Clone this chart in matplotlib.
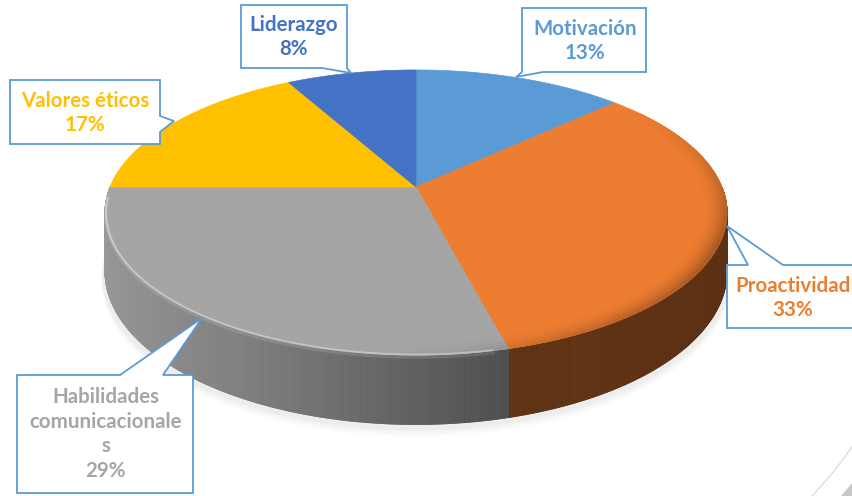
import numpy as np
import matplotlib
matplotlib.use("Agg")
import matplotlib.pyplot as plt
from matplotlib.patches import Polygon
from matplotlib.collections import PolyCollection
import matplotlib.colors as mcolors

# ---------------- data ----------------
categories = ["Motivación", "Proactividad", "Habilidades comunicacionales", "Valores éticos", "Liderazgo"]
values = [13, 33, 29, 17, 8]
display_names = ["Motivación", "Proactividad", "Habilidades\ncomunicacionale\ns", "Valores éticos", "Liderazgo"]
slice_colors = ["#5B9BD5", "#ED7D31", "#A5A5A5", "#FFC000", "#4472C4"]
side_scale = [1.0, 0.86, 1.0, 1.0, 1.0]   # extra darkening of each slice's wall

# ---------------- layout / style ----------------
W, H = 853, 496
fig = plt.figure(figsize=(W / 100, H / 100), dpi=100)
ax = fig.add_axes([0, 0, 1, 1])
ax.set_xlim(0, W)
ax.set_ylim(H, 0)
ax.axis("off")

cx, cy = 416.0, 187.0   # projected pie centre (pixels)
A, B = 306.0, 138.0     # horizontal / vertical radii
k = 0.179               # perspective strength
D = 57.0                # thickness


def proj(X, Y, z=0.0):
    w = 1.0 + k * Y
    return cx + A * X / w, cy - B * Y / w + z * D / w


total = float(sum(values))
cum = np.concatenate([[0], np.cumsum(values)]) / total * 360.0
starts = 90.0 - cum[:-1]
ends = 90.0 - cum[1:]


def slice_of(theta):
    frac = ((90.0 - theta) % 360.0)
    return int(np.searchsorted(cum, frac, side="right") - 1) % len(values)


def rgb(c):
    return np.array(mcolors.to_rgb(c))


# ---------- soft shadow ----------
tt = np.linspace(0, 2 * np.pi, 300)
for off, a in [(10, 0.04), (7, 0.06), (4, 0.08)]:
    xs, ys = proj(np.cos(tt) * 1.01, np.sin(tt) * 1.01, 1.0)
    ax.add_patch(Polygon(np.column_stack([xs, ys + off]), closed=True,
                         facecolor="#9a9a9a", alpha=a, edgecolor="none", zorder=1))

# ---------- side wall ----------
th = np.linspace(-180, 0, 721)
quads, cols, depth = [], [], []
for t0, t1 in zip(th[:-1], th[1:]):
    tm = 0.5 * (t0 + t1)
    r0, r1 = np.radians(t0), np.radians(t1)
    p1 = proj(np.cos(r0), np.sin(r0), 0)
    p2 = proj(np.cos(r1), np.sin(r1), 0)
    p3 = proj(np.cos(r1), np.sin(r1), 1)
    p4 = proj(np.cos(r0), np.sin(r0), 1)
    X = np.cos(np.radians(tm))
    si = slice_of(tm)
    f = np.interp(X, [-1, -0.5, 0.0, 0.25, 1.0], [0.93, 0.78, 0.58, 0.47, 0.45]) * side_scale[si]
    c = np.clip(rgb(slice_colors[si]) * f, 0, 1)
    quads.append([p1, p2, p3, p4])
    cols.append(c)
    depth.append(np.sin(np.radians(tm)))
order = np.argsort(-np.array(depth))
pc = PolyCollection([quads[i] for i in order], facecolors=[cols[i] for i in order],
                    edgecolors=[cols[i] for i in order], linewidths=0.6, zorder=2)
ax.add_collection(pc)

# ---------- top face ----------
for i in range(len(values)):
    a = np.radians(np.linspace(starts[i], ends[i], 200))
    xs, ys = proj(np.cos(a), np.sin(a))
    pts = np.vstack([[cx, cy], np.column_stack([xs, ys])])
    ax.add_patch(Polygon(pts, closed=True, facecolor=slice_colors[i],
                         edgecolor=slice_colors[i], linewidth=0.5, zorder=3))

# ---------- bevel shading near the rim ----------
bev_polys, bev_cols = [], []
radii = np.linspace(0.92, 1.0, 9)
thb = np.linspace(40, -180, 441)
for r0, r1 in zip(radii[:-1], radii[1:]):
    t = (0.5 * (r0 + r1) - 0.92) / 0.08
    for t0, t1 in zip(thb[:-1], thb[1:]):
        tm = 0.5 * (t0 + t1)
        X = np.cos(np.radians(tm))
        Y = np.sin(np.radians(tm))
        wgt = np.clip(X + 0.1, 0, 1) * np.clip(0.6 - Y, 0, 1)
        dark = (t ** 2.0) * 0.32 * wgt
        if dark <= 0.004:
            continue
        a0, a1 = np.radians(t0), np.radians(t1)
        q = [proj(r0 * np.cos(a0), r0 * np.sin(a0)), proj(r0 * np.cos(a1), r0 * np.sin(a1)),
             proj(r1 * np.cos(a1), r1 * np.sin(a1)), proj(r1 * np.cos(a0), r1 * np.sin(a0))]
        c = np.clip(rgb(slice_colors[slice_of(tm)]) * (1 - dark), 0, 1)
        bev_polys.append(q)
        bev_cols.append(c)
ax.add_collection(PolyCollection(bev_polys, facecolors=bev_cols, edgecolors=bev_cols,
                                 linewidths=0.4, zorder=4))

# soft highlight along the front rim
ah = np.radians(np.linspace(-176, -78, 200))
hx, hy = proj(0.997 * np.cos(ah), 0.997 * np.sin(ah))
ax.plot(hx, hy, color="white", alpha=0.35, lw=1.3, zorder=5, solid_capstyle="round")
ax.plot(hx, hy + 2.5, color="#ffffff", alpha=0.12, lw=2.5, zorder=5)

# ---------- decorative corner arc ----------
aa = np.radians(np.linspace(20, 50, 100))
ax.plot(560 + 352 * np.cos(aa), 250 + 352 * np.sin(aa), color="#d6d6d6", lw=0.8, zorder=1)
ax.add_patch(Polygon([[841, 496], [853, 482], [853, 496]], closed=True,
                     facecolor="#c8c8c8", edgecolor="none", zorder=1))

# ---------- callout labels ----------
box_color = "#5B9BD5"


def callout(x0, y0, x1, y1, side, b1, b2, tip):
    if side == "bottom":
        pts = [(x0, y0), (x1, y0), (x1, y1), (b2, y1), tip, (b1, y1), (x0, y1)]
    elif side == "top":
        pts = [(x0, y0), (b1, y0), tip, (b2, y0), (x1, y0), (x1, y1), (x0, y1)]
    else:  # right
        pts = [(x0, y0), (x1, y0), (x1, b1), tip, (x1, b2), (x1, y1), (x0, y1)]
    ax.add_patch(Polygon(pts, closed=True, facecolor="white", edgecolor=box_color,
                         linewidth=1.3, joinstyle="miter", zorder=6))


callout(522, 8, 646, 72, "bottom", 522, 543, (516, 77))
callout(727, 265, 862, 328, "top", 748, 783, (727, 226))
callout(17, 375, 193, 493, "top", 120, 163, (202, 318))
callout(10, 80, 160, 144, "right", 116, 132, (174, 121))
callout(241, 5, 347, 68, "bottom", 322, 347, (351, 73))

text_pos = [(585, 41), (793, 298), (106, 434), (85, 113), (294, 37)]
text_cols = ["#5B9BD5", "#ED7D31", "#A5A5A5", "#FFC000", "#4472C4"]
for name, v, (tx, ty), tc in zip(display_names, values, text_pos, text_cols):
    ax.text(tx, ty, f"{name}\n{v}%", ha="center", va="center", color=tc,
            fontsize=14.8, fontweight="bold", family=["Lato", "DejaVu Sans"],
            linespacing=1.28, zorder=7)

fig.savefig("out.png", dpi=100)
